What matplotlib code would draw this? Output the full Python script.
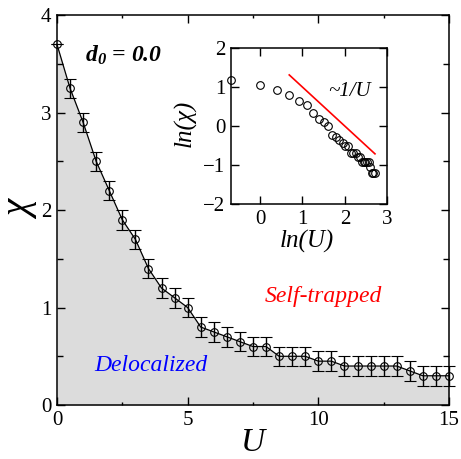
import numpy as np
import matplotlib
matplotlib.use('Agg')
import matplotlib.pyplot as plt
from matplotlib.ticker import MultipleLocator

plt.rcParams['font.family'] = 'Liberation Serif'
plt.rcParams['mathtext.fontset'] = 'custom'
plt.rcParams['mathtext.rm'] = 'Liberation Serif'
plt.rcParams['mathtext.it'] = 'Liberation Serif:italic'
plt.rcParams['mathtext.bf'] = 'Liberation Serif:italic:bold'

# main data: chi vs U, with error bars
U = [0.0, 0.5, 1.0, 1.5, 2.0, 2.5, 3.0, 3.5, 4.0, 4.5, 5.0, 5.5, 6.0, 6.5, 7.0, 7.5,
     8.0, 8.5, 9.0, 9.5, 10.0, 10.5, 11.0, 11.5, 12.0, 12.5, 13.0, 13.5, 14.0, 14.5, 15.0]
chi = [3.70, 3.25, 2.90, 2.50, 2.20, 1.90, 1.70, 1.40, 1.20, 1.10, 1.00, 0.80, 0.75, 0.70, 0.65, 0.60,
       0.60, 0.50, 0.50, 0.50, 0.45, 0.45, 0.40, 0.40, 0.40, 0.40, 0.40, 0.35, 0.30, 0.30, 0.30]
chi_err = [0.0] + [0.1] * 30

# power-law guide in the inset (slope -1)
guide_x = [0.69, 2.71]
guide_y = [1.31, -0.71]

U = np.array(U)
chi = np.array(chi)

fig = plt.figure(figsize=(4.61, 4.59), dpi=100)
ax = fig.add_axes([0.1236, 0.1176, 0.8504, 0.8494])

ax.fill_between(U, 0, chi, color='#dcdcdc', lw=0, zorder=1)
ax.errorbar(U, chi, yerr=chi_err, fmt='-o', color='black', lw=0.9, elinewidth=1.0,
            capsize=4.2, capthick=1.0, ms=5.5, mfc='none', mec='black', mew=0.8, zorder=3,
            clip_on=False)

ax.set_xlim(0, 15)
ax.set_ylim(0, 4)
ax.xaxis.set_major_locator(MultipleLocator(5))
ax.xaxis.set_minor_locator(MultipleLocator(2.5))
ax.yaxis.set_major_locator(MultipleLocator(1))
ax.yaxis.set_minor_locator(MultipleLocator(0.5))
ax.tick_params(which='both', direction='in', top=True, right=True, labelsize=15, width=1.0, pad=4)
ax.tick_params(which='major', length=6)
ax.tick_params(axis='x', which='minor', length=2.5)
ax.tick_params(axis='y', which='minor', length=4.5)
for s in ax.spines.values():
    s.set_linewidth(1.1)

ax.set_xlabel('U', fontsize=24, fontstyle='italic', va='center')
ax.xaxis.set_label_coords(0.5, -0.098)
ax.set_ylabel('χ', fontsize=28, fontstyle='italic', va='center')
ax.yaxis.set_label_coords(-0.089, 0.5)

ax.text(1.07, 3.59, r'$\mathbf{d_0}$ = 0.0', fontsize=17, fontweight='bold', fontstyle='italic',
        ha='left', va='center')
ax.text(3.6, 0.41, 'Delocalized', color='blue', fontsize=17, fontstyle='italic',
        ha='center', va='center')
ax.text(10.18, 1.11, 'Self-trapped', color='red', fontsize=17, fontstyle='italic',
        ha='center', va='center')

# inset: log-log view
ins = fig.add_axes([0.5004, 0.555, 0.3397, 0.3405])
ins.plot(np.log(U[1:]), np.log(chi[1:]), 'o', ms=5.5, mfc='none', mec='black', mew=0.8,
         clip_on=False)
ins.plot(guide_x, guide_y, color='red', lw=1.2)
ins.text(2.11, 0.875, '~1/U', fontsize=15, fontstyle='italic', ha='center', va='center')
ins.set_xlim(-0.69, 3)
ins.set_ylim(-2, 2)
ins.xaxis.set_major_locator(MultipleLocator(1))
ins.yaxis.set_major_locator(MultipleLocator(1))
ins.tick_params(direction='in', top=True, right=True, labelsize=15, length=6, width=1.0, pad=4)
for s in ins.spines.values():
    s.set_linewidth(1.1)
ins.set_xlabel('ln(U)', fontsize=18, fontstyle='italic', va='center')
ins.xaxis.set_label_coords(0.487, -0.241)
ins.set_ylabel('ln(χ)', fontsize=18, fontstyle='italic', va='center')
ins.yaxis.set_label_coords(-0.292, 0.52)

fig.savefig('out.png', dpi=100)
